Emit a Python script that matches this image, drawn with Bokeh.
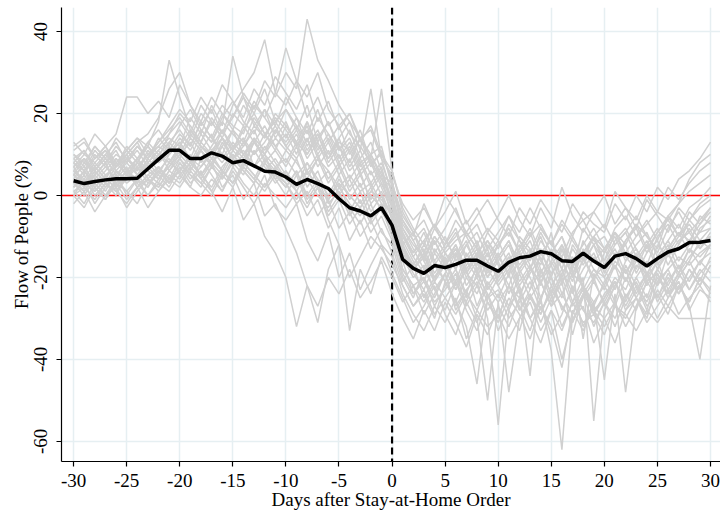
from bokeh.plotting import figure
from bokeh.models import Range1d, Span, FixedTicker, PrintfTickFormatter
from bokeh.embed import file_html
from bokeh.resources import INLINE

days = list(range(-30, 31))

mean_flow = [3.6, 2.9, 3.4, 3.8, 4.1, 4.1, 4.2, 6.5, 8.8, 11.0,
             11.0, 9.0, 9.0, 10.4, 9.6, 8.0, 8.5, 7.2, 5.9, 5.7,
             4.5, 2.7, 3.9, 2.9, 1.7, -0.8, -3.0, -3.8, -5.0, -3.0,
             -7.3, -15.6, -17.8, -19.0, -17.1, -17.6, -16.8, -15.8, -15.8, -17.2,
             -18.5, -16.3, -15.2, -14.8, -13.7, -14.2, -15.9, -16.1, -14.1, -16.0,
             -17.6, -14.8, -14.2, -15.4, -17.2, -15.4, -13.8, -13.0, -11.5, -11.4,
             -11.0]

state_series = [
    [6, 4, 8, 5, 7, 9, 6, 10, 12, 15, 18, 14, 20, 17, 22, 19, 25, 21, 28, 24,
     30, 26, 43, 33, 28, 22, 18, 14, 10, 12, 2, -8, -12, -15, -10, -14, -11, -9, -13, -16,
     -12, -8, -14, -10, -7, -12, -15, -9, -6, -11, -14, -8, -5, -10, -7, -4, -6, -2, 1, 3, 5],
    [3, 1, 5, 2, 6, 4, 8, 12, 18, 33, 24, 16, 12, 10, 14, 9, 11, 7, 6, 9,
     5, 3, 6, 2, -1, 4, 0, -3, 1, 5, -6, -18, -22, -20, -25, -19, -28, -23, -20, -26,
     -30, -22, -25, -18, -21, -27, -24, -19, -22, -28, -25, -20, -23, -17, -19, -22, -18, -15, -17, -14, -12],
    [10, 8, 12, 9, 7, 11, 14, 12, 9, 15, 20, 17, 13, 19, 15, 22, 26, 30, 38, 25,
     22, 28, 19, 24, 17, 20, 15, 12, 8, 10, 4, -10, -14, -9, -16, -12, -8, -15, -11, -18,
     -14, -20, -10, -13, -17, -9, -22, -12, -16, -10, -13, -18, -11, -8, -14, -9, -6, -10, -4, -7, -3],
    [5, 7, 3, 6, 9, 5, 8, 6, 10, 13, 16, 12, 18, 14, 20, 17, 15, 22, 19, 25,
     36, 28, 24, 30, 21, 17, 20, 14, 16, 9, 0, -12, -18, -15, -20, -17, -13, -19, -22, -16,
     -20, -15, -18, -23, -14, -19, -16, -21, -13, -18, -22, -16, -19, -14, -20, -12, -15, -11, -9, -13, -10],
    [12, 14, 9, 11, 7, 10, 13, 8, 11, 14, 12, 19, 15, 22, 17, 34, 24, 20, 26, 18,
     21, 16, 22, 13, 18, 11, 14, 8, 10, 5, 3, -5, -9, -14, -8, -12, -6, -10, -15, -9,
     -13, -7, -11, -16, -9, -14, -10, -18, -8, -12, -16, -9, -12, -7, -10, -13, -5, -8, -3, -1, 2],
    [2, 5, 1, 4, 3, 6, 2, 5, 7, 4, 9, 6, 11, 8, 5, 10, 7, 13, 9, 6,
     11, 8, 4, 9, 6, 2, 5, 1, 3, -2, -4, -9, -15, -11, -7, -13, -10, -6, -12, -8,
     -11, -5, -9, -3, -8, -12, -6, -10, -4, -7, -9, -2, -6, 0, -4, 2, -1, 4, 6, 9, 13],
    [0, -3, 2, -1, 4, 1, -2, 3, 5, 2, 7, 3, 6, 1, -4, 2, -6, -2, -10, -14,
     -20, -32, -22, -27, -20, -24, -18, -25, -21, -16, -24, -30, -35, -28, -33, -26, -31, -37, -29, -34,
     -27, -32, -25, -30, -36, -28, -33, -26, -31, -29, -34, -27, -30, -25, -29, -23, -27, -22, -26, -20, -24],
    [4, 2, 6, 3, 0, 5, 3, 7, 4, 8, 6, 10, 4, 8, 2, 5, -1, 3, -5, -2,
     -8, -14, -22, -31, -18, -12, -20, -15, -10, -13, -17, -22, -27, -24, -30, -21, -26, -32, -46, -25,
     -23, -28, -33, -24, -29, -22, -27, -31, -25, -21, -26, -30, -24, -28, -21, -25, -19, -23, -18, -22, -17],
    [7, 9, 5, 8, 11, 6, 9, 12, 8, 10, 13, 9, 15, 11, 8, 12, 14, 7, 10, 4,
     6, 1, -3, 2, -6, -12, -33, -18, -24, -15, -20, -26, -22, -29, -24, -19, -27, -23, -30, -50,
     -26, -22, -28, -24, -31, -25, -20, -27, -23, -29, -24, -21, -26, -20, -25, -18, -22, -17, -21, -16, -19],
    [1, 3, -2, 2, 5, 0, 4, 2, 6, 3, 8, 5, 2, 7, 4, 9, 6, 3, 8, 5,
     2, 6, 0, 4, -2, 1, -5, -1, -7, -3, -10, -20, -25, -18, -23, -28, -21, -26, -19, -24,
     -30, -22, -27, -33, -25, -38, -62, -29, -24, -32, -26, -21, -28, -23, -19, -25, -20, -24, -18, -22, -17],
    [6, 3, 7, 4, 8, 5, 9, 6, 4, 7, 10, 7, 12, 9, 6, 11, 8, 13, 10, 7,
     9, 5, 8, 3, 6, 0, 4, -2, 2, -4, -8, -16, -24, -20, -27, -22, -18, -25, -21, -30,
     -56, -28, -22, -30, -25, -20, -28, -23, -32, -26, -22, -27, -20, -25, -30, -21, -18, -24, -20, -16, -14],
    [3, 6, 2, 5, 1, 4, 7, 3, 6, 9, 5, 8, 11, 7, 13, 9, 12, 16, 10, 14,
     11, 15, 9, 13, 7, 10, 4, 8, 2, 6, -3, -12, -17, -13, -19, -15, -22, -16, -20, -14,
     -21, -17, -24, -19, -15, -22, -18, -26, -20, -55, -28, -22, -18, -25, -20, -16, -23, -19, -15, -12, -10],
    [9, 11, 7, 10, 13, 8, 12, 9, 14, 11, 15, 12, 18, 14, 10, 16, 13, 19, 15, 11,
     17, 13, 10, 15, 8, 12, 6, 9, 3, 7, -2, -14, -19, -23, -17, -21, -26, -20, -24, -18,
     -22, -27, -19, -25, -21, -17, -24, -29, -22, -26, -45, -24, -48, -27, -21, -19, -25, -20, -16, -21, -15],
    [-2, 1, -4, 0, 3, -1, 2, -3, 1, 4, 2, 6, 3, 0, 5, 2, 7, 4, 1, 5,
     3, -1, 4, 0, -3, 2, -2, -5, 0, -3, -9, -18, -22, -26, -21, -25, -29, -24, -28, -22,
     -26, -48, -30, -25, -29, -23, -27, -31, -24, -28, -32, -27, -29, -33, -28, -31, -27, -30, -30, -30, -30],
    [8, 5, 10, 7, 4, 9, 6, 11, 8, 12, 9, 14, 11, 7, 12, 16, 10, 13, 17, 12,
     15, 10, 18, 12, 9, 14, 7, 11, 5, 8, 1, -11, -16, -21, -14, -18, -23, -17, -13, -20,
     -16, -24, -18, -14, -21, -27, -19, -15, -23, -18, -20, -26, -17, -22, -28, -19, -24, -21, -27, -40, -22],
    [4, 8, 6, 10, 7, 12, 9, 13, 10, 8, 12, 16, 13, 18, 14, 11, 16, 20, 15, 18,
     14, 19, 12, 16, 10, 14, 18, 11, 26, 9, 5, -2, -6, -3, -8, 0, -4, -9, -5, -1,
     -6, -10, -3, -7, -1, -5, -9, -2, -6, -4, -8, 1, -3, -6, 0, -4, 2, -1, 3, 6, 8],
    [13, 10, 15, 12, 8, 11, 14, 10, 13, 16, 19, 15, 22, 18, 14, 20, 17, 23, 19, 15,
     21, 17, 13, 19, 15, 11, 16, 9, 13, 6, -1, -8, -13, -18, -11, -16, -21, -14, -19, -12,
     -17, -22, -15, -11, -18, -24, -13, -20, -16, -12, -19, -14, -21, -16, -12, -18, -13, -9, -14, -8, -6],
    [5, 2, 7, 4, 9, 6, 3, 8, 5, 10, 13, 8, 11, 15, 9, 13, 10, 7, 12, 8,
     4, 9, 2, 6, -1, 3, -4, 1, -6, -2, -7, -15, -20, -17, -23, -19, -14, -22, -18, -25,
     -20, -16, -23, -44, -18, -24, -19, -15, -22, -27, -21, -17, -25, -20, -16, -22, -14, -19, -13, -17, -12],
    [3, 0, 4, 1, 6, 3, 5, 2, 7, 4, 6, 9, 5, 8, 12, 7, 10, 14, 8, 11,
     7, 12, 5, 9, 3, 7, 1, 5, -1, 3, -3, -6, -10, -2, -8, -4, 1, -7, -3, -9,
     -5, 0, -6, -10, -3, -8, 2, -5, -9, -4, 0, -7, -3, -8, -1, -5, -9, -3, -6, -2, 0],
    [2, 4, 0, 3, 1, 5, 3, 0, 4, 7, 11, 8, 5, 9, 6, 3, 7, 4, 9, 5,
     2, 6, -1, 3, -4, 0, -3, -7, -2, -9, -12, -21, -17, -25, -20, -16, -23, -18, -27, -21,
     -25, -19, -28, -23, -18, -26, -21, -34, -24, -20, -27, -22, -18, -24, -19, -26, -21, -17, -23, -19, -16],
    [11, 13, 9, 12, 15, 24, 24, 20, 23, 19, 27, 22, 18, 24, 20, 16, 22, 18, 14, 20,
     17, 13, 18, 11, 15, 9, 13, 7, 10, 4, 2, -7, -11, -16, -10, -14, -18, -12, -17, -11,
     -15, -19, -13, -9, -16, -20, -12, -17, -14, -10, -16, -11, -8, -13, -17, -10, -7, -12, -6, -9, -5],
    [7, 3, 5, 8, 2, 6, 4, 9, 6, 3, 8, 4, 7, 10, 6, 3, 8, 5, 2, 6,
     3, -2, 1, -5, -1, -8, -4, -10, -6, -12, -15, -24, -29, -33, -27, -31, -25, -35, -28, -32,
     -29, -35, -30, -26, -33, -28, -40, -30, -27, -36, -30, -26, -32, -27, -24, -30, -25, -21, -28, -23, -25],
    [8, 6, 9, 12, 7, 10, 13, 15, 19, 26, 30, 22, 17, 21, 15, 19, 24, 17, 21, 14,
     18, 12, 16, 9, 13, 7, 11, 5, 8, 2, -4, -13, -18, -14, -21, -17, -12, -19, -15, -22,
     -18, -14, -21, -17, -25, -19, -15, -23, -18, -14, -20, -15, -12, -19, -14, -11, -17, -12, -8, -13, -9],
    [0, 2, -1, 3, 1, -2, 2, 4, 1, 5, 3, 7, 4, 1, 6, 3, 8, 5, 2, 7,
     4, 1, 6, 2, -1, 3, 0, -3, 1, -1, -5, -13, -18, -14, -20, -16, -12, -18, -14, -20,
     -15, -11, -17, -13, -19, -14, -10, -16, -12, -8, -13, -9, -14, -10, -6, -11, -5, -2, 4, 8, 10],
    [5, 9, 6, 3, 7, 10, 5, 8, 11, 6, 10, 13, 8, 12, 16, 11, 14, 10, 13, 17,
     12, 16, 10, 14, 18, 12, 8, 14, 9, 26, 6, -4, -9, -6, -12, -8, -3, -10, -7, -13,
     -9, -5, -11, -14, -8, -12, -7, -11, -15, -10, -7, -12, -9, -5, -10, -14, -8, -4, -9, -6, -3],
    [6, 9, 4, 7, 10, 8, 5, 9, 12, 10, 14, 11, 16, 13, 18, 15, 12, 17, 14, 19,
     16, 12, 17, 10, 14, 8, 12, 6, 9, 3, -2, -10, -15, -19, -13, -17, -14, -20, -16, -23,
     -19, -15, -22, -18, -13, -20, -25, -17, -21, -15, -18, -23, -16, -13, -19, -15, -11, -16, -12, -9, -8],
    [1, -2, 3, 0, 2, -3, 1, 4, 2, 6, 4, 8, 5, 2, 7, 10, 6, 3, 8, 4,
     0, 5, -2, 2, -5, -1, -7, -3, -9, -5, -11, -19, -24, -21, -26, -23, -19, -27, -22, -28,
     -24, -30, -26, -21, -28, -24, -32, -26, -22, -29, -25, -21, -27, -22, -26, -20, -24, -19, -23, -18, -21],
    [10, 7, 12, 9, 14, 11, 8, 13, 16, 12, 17, 21, 16, 13, 19, 23, 18, 15, 21, 17,
     24, 19, 15, 21, 13, 17, 10, 14, 7, 11, 3, -6, -11, -8, -14, -10, -16, -12, -9, -15,
     -11, -17, -13, -8, -14, -11, -18, -10, -15, -21, -14, -10, -16, -12, -9, -15, -11, -7, -12, -5, -7],
    [4, 1, 5, 8, 3, 6, 9, 4, 7, 3, 6, 2, 9, 5, 1, 7, 3, 0, 5, -3,
     -6, -2, -11, -16, -9, -20, -14, -23, -17, -12, -19, -25, -31, -27, -22, -29, -34, -26, -31, -24,
     -33, -27, -23, -30, -26, -34, -29, -22, -28, -31, -26, -32, -25, -21, -27, -24, -29, -22, -26, -20, -23],
    [8, 11, 6, 9, 5, 8, 11, 7, 10, 8, 11, 8, 13, 10, 16, 12, 9, 14, 11, 16,
     12, 9, 14, 7, 11, 5, 9, 2, 6, 0, -5, -14, -18, -15, -11, -17, -13, -19, -14, -11,
     -16, -12, -19, -15, -10, -17, -13, -20, -11, -16, -13, -9, -15, -18, -12, -8, -14, -10, -7, -11, -8],
    [2, 6, 3, 0, 4, 7, 2, 5, 3, 8, 12, 9, 7, 11, 14, 9, 13, 10, 15, 12,
     8, 13, 6, 10, 4, 8, 2, 6, -2, 1, -6, -12, -9, -16, -21, -14, -18, -24, -17, -13,
     -22, -18, -14, -20, -26, -16, -21, -18, -35, -19, -23, -17, -21, -15, -22, -18, -14, -20, -16, -11, -13],
    [5, 3, 1, 4, 2, 5, 8, 4, 2, 6, 9, 5, 3, 7, 4, 8, 5, 11, 7, 3,
     6, 2, 8, 4, 0, 5, -1, 3, -4, 0, -8, -13, -17, -12, -16, -21, -15, -11, -18, -14,
     -20, -16, -12, -17, -22, -13, -18, -24, -15, -20, -17, -13, -19, -15, -21, -16, -12, -18, -13, -15, -12],
    [7, 10, 8, 11, 6, 9, 12, 9, 13, 17, 21, 18, 24, 20, 27, 23, 19, 26, 22, 29,
     25, 21, 27, 18, 23, 16, 20, 13, 17, 10, 6, -3, -8, -12, -7, -11, -15, -9, -13, -18,
     -12, -9, -14, -18, -11, -15, -20, -13, -17, -12, -10, -15, -11, -7, -13, -9, -5, -10, -6, -3, -1],
    [0, 4, 2, -1, 3, 1, 4, 0, 3, 1, 5, 2, 0, 4, 1, 6, 2, -2, 3, 0,
     -3, 1, -5, -1, -8, -3, -11, -6, -13, -8, -14, -22, -27, -23, -29, -25, -21, -28, -33, -26,
     -31, -25, -29, -35, -27, -32, -42, -28, -33, -27, -30, -36, -28, -25, -31, -27, -23, -29, -25, -22, -26],
    [9, 6, 11, 8, 12, 9, 7, 10, 8, 13, 10, 15, 12, 9, 14, 11, 17, 13, 10, 16,
     13, 17, 11, 15, 9, 13, 11, 16, 8, 4, -1, -9, -14, -11, -17, -13, -9, -16, -12, -19,
     -15, -11, -18, -14, -20, -16, -12, -19, -14, -10, -17, -12, -9, -15, -11, -17, -13, -9, -11, -7, -4],
]

x_ticks = [-30, -25, -20, -15, -10, -5, 0, 5, 10, 15, 20, 25, 30]
y_ticks = [-60, -40, -20, 0, 20, 40]

FONT = "Liberation Serif"

p = figure(width=720, height=513, output_backend="svg", toolbar_location=None,
           x_range=Range1d(-31.14, 30.94), y_range=Range1d(-64.9, 45.85),
           min_border_left=61, min_border_right=0, min_border_top=7, min_border_bottom=52)
p.outline_line_color = None
p.background_fill_color = "white"
p.border_fill_color = "white"

for ax in (p.xaxis[0], p.yaxis[0]):
    ax.axis_line_color = "black"
    ax.axis_line_width = 1.2
    ax.major_tick_line_color = "black"
    ax.major_tick_line_width = 1.2
    ax.major_tick_out = 5
    ax.major_tick_in = 0
    ax.minor_tick_line_color = None
    ax.major_label_text_font = FONT
    ax.major_label_text_font_size = "19px"
    ax.major_label_text_color = "black"
    ax.axis_label_text_font = FONT
    ax.axis_label_text_font_size = "19px"
    ax.axis_label_text_font_style = "normal"
    ax.axis_label_text_color = "black"
    ax.formatter = PrintfTickFormatter(format="%d")

p.xaxis.ticker = FixedTicker(ticks=x_ticks)
p.yaxis.ticker = FixedTicker(ticks=y_ticks)
p.xaxis.axis_label = "Days after Stay-at-Home Order"
p.yaxis.axis_label = "Flow of People (%)"
p.yaxis.major_label_orientation = "parallel"
p.xaxis.major_label_standoff = 7
p.yaxis.major_label_standoff = 9
p.xaxis.axis_label_standoff = -1
p.yaxis.axis_label_standoff = 0

p.xgrid.ticker = FixedTicker(ticks=x_ticks)
p.ygrid.ticker = FixedTicker(ticks=y_ticks)
p.grid.grid_line_color = "#e6eff2"
p.grid.grid_line_width = 1.5

red_zero = Span(location=0, dimension="width", line_color="#ff0000", line_width=1.5, level="underlay")
order_day = Span(location=0, dimension="height", line_color="black", line_width=2.2,
                 line_dash="7 4", level="underlay")
p.add_layout(red_zero)
p.add_layout(order_day)

p.multi_line(xs=[days] * len(state_series), ys=state_series,
             line_color="#d0d0d0", line_width=1.5)
p.line(days, mean_flow, line_color="black", line_width=3.5)

open("out.html", "w").write(file_html(p, INLINE))
